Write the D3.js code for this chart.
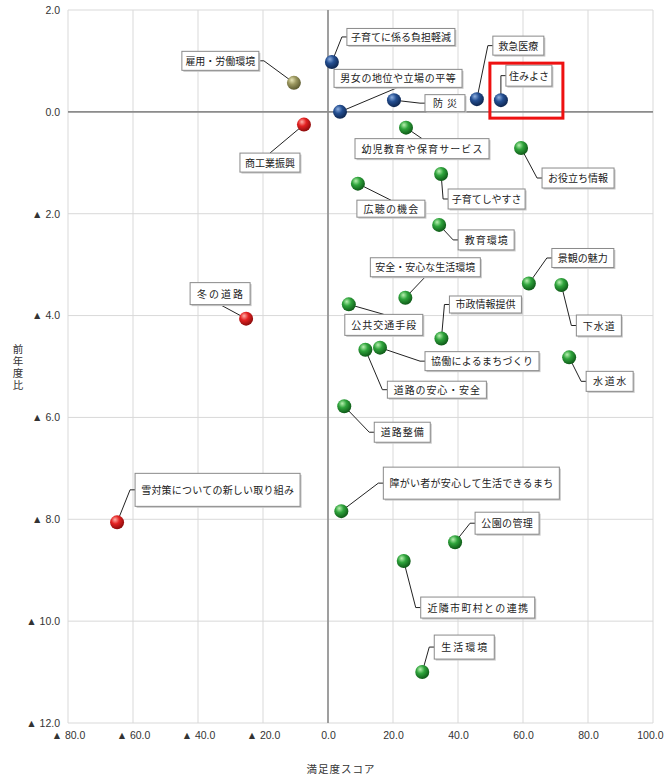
<!DOCTYPE html>
<html>
<head>
<meta charset="utf-8">
<script src="https://cdn.jsdelivr.net/npm/d3@7"></script>
<style>
body { margin: 0; background: white; }
svg { display: block; }
</style>
</head>
<body>
<div id="chart"></div>
<script>
// 満足度スコア (x) と 前年度比 (y)
const names = [
    "雇用・労働環境", "商工業振興", "子育てに係る負担軽減", "男女の地位や立場の平等", "防災",
    "救急医療", "住みよさ", "幼児教育や保育サービス", "お役立ち情報", "子育てしやすさ",
    "広聴の機会", "教育環境", "景観の魅力", "安全・安心な生活環境", "下水道",
    "公共交通手段", "市政情報提供", "協働によるまちづくり", "道路の安心・安全", "水道水",
    "道路整備", "障がい者が安心して生活できるまち", "公園の管理", "近隣市町村との連携", "生活環境",
    "冬の道路", "雪対策についての新しい取り組み"
];
const scores = [
    -10.5, -7.4, 1.2, 3.7, 20.3,
    45.8, 53.2, 24.0, 59.4, 34.8,
    9.2, 34.2, 61.8, 23.8, 71.8,
    6.4, 34.9, 16.0, 11.5, 74.2,
    5.0, 4.1, 39.1, 23.3, 29.0,
    -25.2, -64.9
];
const changes = [
    0.57, -0.25, 0.98, 0.0, 0.23,
    0.25, 0.23, -0.31, -0.71, -1.22,
    -1.41, -2.22, -3.37, -3.65, -3.40,
    -3.78, -4.45, -4.63, -4.67, -4.82,
    -5.78, -7.84, -8.45, -8.82, -11.0,
    -4.06, -8.06
];
const groups = [
    "olive", "red", "blue", "blue", "blue",
    "blue", "blue", "green", "green", "green",
    "green", "green", "green", "green", "green",
    "green", "green", "green", "green", "green",
    "green", "green", "green", "green", "green",
    "red", "red"
];
const xTicks = [-80, -60, -40, -20, 0, 20, 40, 60, 80, 100];
const yTicks = [2, 0, -2, -4, -6, -8, -10, -12];
const highlight = "住みよさ";

// label box: centre offset from point (px), leader side, box height
const labelLayout = [
    [-73.5, -22, "r", 19], [-34, 38, "t", 19], [69, -25, "l", 17], [58, -33.5, "b", 18], [51, 3, "l", 17],
    [41.5, -53.5, "l", 19], [28, -24.5, "l", 21], [16, 21, "t", 20], [57, 30, "l", 20], [45.5, 25, "l", 20],
    [33, 25, "t", 17], [47, 15, "l", 20], [54, -25.5, "l", 19], [20, -30.5, "b", 19], [37.5, 40.5, "l", 21],
    [35, 20.5, "t", 21], [44, -34, "l", 17], [102, 13.5, "l", 19], [71.5, 40, "l", 17], [40.5, 24, "l", 20],
    [58, 26, "l", 20], [130, -28, "l", 32], [52, -19, "l", 22], [74, 46.5, "l", 21], [42, -25, "l", 24],
    [-26, -25, "b", 22], [100.5, -32.5, "l", 33]
];
const labelWidths = {
    "雇用・労働環境": 77, "商工業振興": 60, "子育てに係る負担軽減": 108, "男女の地位や立場の平等": 128,
    "防災": 40, "救急医療": 51, "住みよさ": 46, "幼児教育や保育サービス": 134, "お役立ち情報": 72,
    "子育てしやすさ": 77, "広聴の機会": 68, "教育環境": 56, "景観の魅力": 62, "安全・安心な生活環境": 110,
    "下水道": 45, "公共交通手段": 78, "市政情報提供": 72, "協働によるまちづくり": 114, "道路の安心・安全": 99,
    "水道水": 47, "道路整備": 56, "障がい者が安心して生活できるまち": 176, "公園の管理": 64,
    "近隣市町村との連携": 114, "生活環境": 60, "冬の道路": 60, "雪対策についての新しい取り組み": 165
};

const colors = {
    olive: ["#e8e6b8", "#9c9860", "#5c5a30"],
    red:   ["#ffb0a8", "#e42222", "#8c0c0c"],
    blue:  ["#8fb0e0", "#244f92", "#0e2650"],
    green: ["#b8f0b0", "#2fa43c", "#0f5a18"]
};

const width = 664, height = 777;
const plot = {left: 68, right: 653, top: 10, bottom: 723};

const svg = d3.select("#chart").append("svg")
    .attr("width", width)
    .attr("height", height)
    .style("font-family", "'Liberation Sans', 'Noto Sans', sans-serif");

const defs = svg.append("defs");
for (const key of Object.keys(colors)) {
    const g = defs.append("radialGradient")
        .attr("id", "ball-" + key)
        .attr("cx", "40%").attr("cy", "35%").attr("r", "65%")
        .attr("fx", "35%").attr("fy", "30%");
    g.append("stop").attr("offset", "0%").attr("stop-color", colors[key][0]);
    g.append("stop").attr("offset", "45%").attr("stop-color", colors[key][1]);
    g.append("stop").attr("offset", "100%").attr("stop-color", colors[key][2]);
}

const x = d3.scaleLinear().domain([-80, 100]).range([plot.left, plot.right]);
const y = d3.scaleLinear().domain([-12, 2]).range([plot.bottom, plot.top]);

const fmt = v => v < 0 ? "▲ " + Math.abs(v).toFixed(1) : v.toFixed(1);

// grid
const grid = svg.append("g");
grid.selectAll(".vgrid").data(xTicks).join("line")
    .attr("x1", d => x(d)).attr("x2", d => x(d))
    .attr("y1", plot.top).attr("y2", plot.bottom)
    .style("stroke", "#d9d9d9");
grid.selectAll(".hgrid").data(yTicks).join("line")
    .attr("y1", d => y(d)).attr("y2", d => y(d))
    .attr("x1", plot.left).attr("x2", plot.right)
    .style("stroke", "#d9d9d9");

// zero lines
svg.append("line")
    .attr("x1", x(0)).attr("x2", x(0)).attr("y1", plot.top).attr("y2", plot.bottom)
    .style("stroke", "#8c8c8c").style("stroke-width", 1.6);
svg.append("line")
    .attr("y1", y(0)).attr("y2", y(0)).attr("x1", plot.left).attr("x2", plot.right)
    .style("stroke", "#8c8c8c").style("stroke-width", 1.6);

// axes (labels only)
const yAxis = svg.append("g")
    .attr("transform", `translate(${plot.left - 8},0)`)
    .call(d3.axisLeft(y).tickValues(yTicks).tickFormat(fmt).tickSize(0).tickPadding(0));
yAxis.select(".domain").remove();
yAxis.selectAll("text").style("font-size", "10.5px").style("fill", "#333");

const xAxis = svg.append("g")
    .attr("transform", `translate(0,${plot.bottom + 9})`)
    .call(d3.axisBottom(x).tickValues(xTicks).tickFormat(fmt).tickSize(0).tickPadding(0));
xAxis.select(".domain").remove();
xAxis.selectAll("text").style("font-size", "10.5px").style("fill", "#333");
xAxis.selectAll(".tick").filter(d => d === 100).select("text")
    .attr("text-anchor", "end").attr("x", 10);

svg.append("text")
    .attr("x", 341).attr("y", 773)
    .attr("text-anchor", "middle")
    .style("font-family", "'Noto Sans CJK JP', sans-serif")
    .style("font-size", "10.5px")
    .style("letter-spacing", "1px")
    .style("fill", "#333")
    .text("満足度スコア");

svg.append("text")
    .attr("x", 18).attr("y", 368)
    .attr("text-anchor", "middle")
    .style("writing-mode", "vertical-rl")
    .style("text-orientation", "upright")
    .style("font-family", "'Noto Sans CJK JP', sans-serif")
    .style("font-size", "10.5px")
    .style("letter-spacing", "1.5px")
    .style("fill", "#333")
    .text("前年度比");

// points + labels
const data = names.map((n, i) => ({
    name: n, score: scores[i], change: changes[i], group: groups[i], layout: labelLayout[i]
}));

const leaders = svg.append("g");
const boxes = svg.append("g");
const balls = svg.append("g");

for (const d of data) {
    const px = x(d.score), py = y(d.change);
    const [dx, dy, side, h] = d.layout;
    const w = labelWidths[d.name];
    const cx = px + dx, cy = py + dy;
    const bx = cx - w / 2, by = cy - h / 2;

    let pts;
    if (side === "l") pts = [[px, py], [bx - 5, cy], [bx, cy]];
    else if (side === "r") pts = [[px, py], [bx + w + 5, cy], [bx + w, cy]];
    else if (side === "t") pts = [[px, py], [cx, by]];
    else pts = [[px, py], [cx, by + h]];
    leaders.append("path")
        .attr("d", d3.line()(pts))
        .style("fill", "none")
        .style("stroke", "#222")
        .style("stroke-width", 1);

    boxes.append("rect")
        .attr("x", bx + 1.5).attr("y", by + 1.5)
        .attr("width", w).attr("height", h)
        .style("fill", "#c8c8c8");
    boxes.append("rect")
        .attr("x", bx).attr("y", by)
        .attr("width", w).attr("height", h)
        .style("fill", "white")
        .style("stroke", "#8a8a8a")
        .style("stroke-width", 1);
    const t = boxes.append("text")
        .attr("x", cx).attr("y", cy + 4)
        .attr("text-anchor", "middle")
        .style("font-family", "'Noto Sans CJK JP', sans-serif")
        .style("font-size", "10px")
        .style("fill", "#222")
        .text(d.name);
    const tw = t.node().getComputedTextLength();
    const n = d.name.length;
    if (n > 1) {
        const ls = Math.max(0, (w - 12 - tw) / n);
        t.style("letter-spacing", ls + "px").attr("x", cx + ls / 2);
    }

    balls.append("circle")
        .attr("cx", px).attr("cy", py).attr("r", 7)
        .style("fill", `url(#ball-${d.group})`);

    if (d.name === highlight) {
        svg.append("rect")
            .attr("x", px - 11).attr("y", py - 37)
            .attr("width", 73).attr("height", 55)
            .style("fill", "none")
            .style("stroke", "#ee1111")
            .style("stroke-width", 3);
    }
}
</script>
</body>
</html>
